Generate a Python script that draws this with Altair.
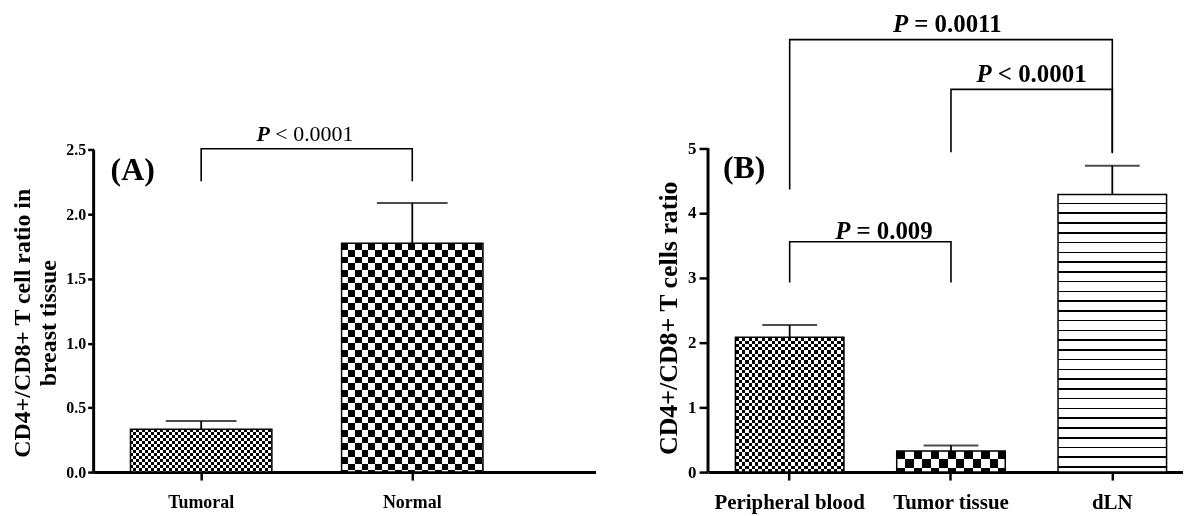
import altair as alt
import pandas as pd

# ---------------- data ----------------
a_categories = ["Tumoral", "Normal"]
a_means = [0.332, 1.774]
a_sems = [0.064, 0.313]
a_ticks = [0.0, 0.5, 1.0, 1.5, 2.0, 2.5]

b_categories = ["Peripheral blood", "Tumor tissue", "dLN"]
b_means = [2.080, 0.327, 4.284]
b_sems = [0.190, 0.083, 0.446]
b_ticks = [0, 1, 2, 3, 4, 5]

# significance brackets
a_br_from = ["Tumoral"]
a_br_to = ["Normal"]
a_br_top = [2.507]
a_br_from_bottom = [2.255]
a_br_to_bottom = [2.255]
a_br_text = ["< 0.0001"]
a_br_text_y = [2.571]

b_br_from = ["Peripheral blood", "Tumor tissue", "Peripheral blood"]
b_br_to = ["Tumor tissue", "dLN", "dLN"]
b_br_top = [3.555, 5.907, 6.675]
b_br_from_bottom = [2.925, 4.938, 4.361]
b_br_to_bottom = [2.925, 4.938, 4.923]
b_br_text = ["= 0.009", "< 0.0001", "= 0.0011"]
b_br_text_y = [3.597, 6.025, 6.794]

# ---------------- style ----------------
FONT = "Liberation Serif"
H = 464
A_W, A_PPU = 504, 129.5
B_W, B_PPU = 477, 65.06
A_BW, B_BW = 142, 109

# pattern per bar: (kind, cell size px)
a_patterns = [("checker", 3.0), ("checker", 6.7)]
b_patterns = [("checker", 3.3), ("checker", 8.5), ("lines", 9.8)]

a_text_dx = [(69, 74.5)]
b_text_dx = [(61, 67), (41, 47), (119, 125)]


def stripe_stops(length, cell):
    stops, pos, n = [], 0.0, 0
    while pos < length - 1e-6:
        end = min(pos + cell, length)
        col = "white" if n % 2 == 0 else "black"
        stops.append({"offset": round(pos / length, 5), "color": col})
        stops.append({"offset": round(end / length, 5), "color": col})
        pos, n = end, n + 1
    return stops


def line_stops(length, period, thick=1.6):
    stops, pos = [], 0.0
    while pos < length - 1e-6:
        w_end = min(pos + period - thick, length)
        b_end = min(pos + period, length)
        stops.append({"offset": round(pos / length, 5), "color": "white"})
        stops.append({"offset": round(w_end / length, 5), "color": "white"})
        if b_end > w_end:
            stops.append({"offset": round(w_end / length, 5), "color": "black"})
            stops.append({"offset": round(b_end / length, 5), "color": "black"})
        pos = b_end
    return stops


def grad(stops, vertical=True):
    if vertical:
        return {"gradient": "linear", "x1": 0, "y1": 0, "x2": 0, "y2": 1, "stops": stops}
    return {"gradient": "linear", "x1": 0, "y1": 0, "x2": 1, "y2": 0, "stops": stops}


def panel(cats, means, sems, ticks, ppu, width, bw, patterns, xscale, xaxis, yaxis,
          cap_size, br, text_dx, rest_weight, p_size, tag, tag_pos, axis_top):
    ymax = H / ppu
    ysc = alt.Scale(domain=[0, ymax], nice=False, zero=True)

    def X():
        return alt.X("cat:N", scale=xscale, axis=xaxis, sort=cats)

    def Y(f):
        return alt.Y(f, scale=ysc, axis=yaxis)

    layers = []
    df = pd.DataFrame({"cat": cats, "mean": means, "sem": sems})
    for c, m, (kind, cell) in zip(cats, means, patterns):
        d = pd.DataFrame({"cat": [c], "mean": [m]})
        hpx = m * ppu
        if kind == "checker":
            layers.append(alt.Chart(d).mark_bar(fill=grad(stripe_stops(hpx, cell), True))
                          .encode(x=X(), y=Y("mean:Q")))
            layers.append(alt.Chart(d).mark_bar(fill=grad(stripe_stops(bw, cell), False),
                                                blend="difference")
                          .encode(x=X(), y=Y("mean:Q")))
        else:
            layers.append(alt.Chart(d).mark_bar(fill=grad(line_stops(hpx, cell), True))
                          .encode(x=X(), y=Y("mean:Q")))
    layers.append(alt.Chart(df).mark_bar(fill="transparent", stroke="black", strokeWidth=1.5)
                  .encode(x=X(), y=Y("mean:Q")))
    err = alt.Chart(df).transform_calculate(upper="datum.mean + datum.sem")
    layers.append(err.mark_rule(color="black", strokeWidth=1.8)
                  .encode(x=X(), y=Y("mean:Q"), y2="upper:Q"))
    layers.append(err.mark_tick(color="black", thickness=2, size=cap_size)
                  .encode(x=X(), y=Y("upper:Q")))

    # brackets
    rows = []
    for i, (f, t, top, fb, tb) in enumerate(zip(br["from"], br["to"], br["top"], br["fb"], br["tb"])):
        rows += [
            {"id": i, "o": 0, "cat": f, "y": fb},
            {"id": i, "o": 1, "cat": f, "y": top},
            {"id": i, "o": 2, "cat": t, "y": top},
            {"id": i, "o": 3, "cat": t, "y": tb},
        ]
    layers.append(alt.Chart(pd.DataFrame(rows)).mark_line(color="black", strokeWidth=1.6)
                  .encode(x=X(), y=Y("y:Q"), detail="id:N", order="o:Q"))
    for f, txt, ty, (pdx, rdx) in zip(br["from"], br["text"], br["ty"], text_dx):
        d = pd.DataFrame({"cat": [f], "y": [ty], "p": ["P"], "t": [txt]})
        layers.append(alt.Chart(d).mark_text(font=FONT, fontSize=p_size, fontWeight="bold",
                                             fontStyle="italic", align="right",
                                             baseline="alphabetic", dx=pdx, color="black")
                      .encode(x=X(), y=Y("y:Q"), text="p:N"))
        layers.append(alt.Chart(d).mark_text(font=FONT, fontSize=p_size, fontWeight=rest_weight,
                                             align="left", baseline="alphabetic", dx=rdx,
                                             color="black")
                      .encode(x=X(), y=Y("y:Q"), text="t:N"))
    # panel tag
    layers.append(alt.Chart(pd.DataFrame({"t": [tag]})).mark_text(
        font=FONT, fontSize=32, fontWeight="bold", align="left", baseline="alphabetic",
        color="black").encode(text="t:N", x=alt.value(tag_pos[0]), y=alt.value(tag_pos[1])))
    # y axis line (0 .. top tick)
    layers.append(alt.Chart(pd.DataFrame({"a": [0]})).mark_rule(color="black", strokeWidth=3)
                  .encode(x=alt.value(0), y=alt.Y(datum=0, scale=ysc, axis=yaxis),
                          y2=alt.datum(axis_top)))
    return alt.layer(*layers).properties(
        width=width, height=H, view=alt.ViewBackground(stroke="transparent", strokeWidth=0))


def xaxis(size, pad):
    return alt.Axis(title=None, labelAngle=0, labelFont=FONT, labelFontSize=size,
                    labelFontWeight="bold", labelColor="black", labelPadding=pad,
                    domainColor="black", domainWidth=3, tickColor="black", tickWidth=2.5,
                    tickSize=8, grid=False)


def yaxis(title, ticks, fmt, lsize, tsize, tick_len, title_y, lpad, tpad):
    return alt.Axis(title=title, values=ticks, format=fmt, domain=False, grid=False,
                    labelFont=FONT, labelFontSize=lsize, labelFontWeight="bold",
                    labelColor="black", labelPadding=lpad, tickColor="black", tickWidth=2.5,
                    tickSize=tick_len, titleFont=FONT, titleFontSize=tsize,
                    titleFontWeight="bold", titleColor="black", titlePadding=tpad,
                    titleLineHeight=26, titleY=title_y)


panel_a = panel(
    a_categories, a_means, a_sems, a_ticks, A_PPU, A_W, A_BW, a_patterns,
    alt.Scale(domain=a_categories, paddingInner=0.3302, paddingOuter=0.3538, align=0.2467),
    xaxis(18, 14),
    yaxis(["CD4+/CD8+ T cell ratio in", "breast tissue"], a_ticks, ".1f", 16, 24, 6, 314, 2, 5),
    71,
    {"from": a_br_from, "to": a_br_to, "top": a_br_top, "fb": a_br_from_bottom,
     "tb": a_br_to_bottom, "text": a_br_text, "ty": a_br_text_y},
    a_text_dx, "normal", 22, "(A)", (17, 171), 2.5,
)

panel_b = panel(
    b_categories, b_means, b_sems, b_ticks, B_PPU, B_W, B_BW, b_patterns,
    alt.Scale(domain=b_categories, paddingInner=0.3272, paddingOuter=0.1358, align=0.625),
    xaxis(21, 12),
    yaxis("CD4+/CD8+ T cells ratio", b_ticks, "d", 17, 26, 9, 309, 3, 6),
    55,
    {"from": b_br_from, "to": b_br_to, "top": b_br_top, "fb": b_br_from_bottom,
     "tb": b_br_to_bottom, "text": b_br_text, "ty": b_br_text_y},
    b_text_dx, "bold", 25, "(B)", (15, 169), 5,
)

chart = alt.hconcat(panel_a, panel_b, spacing=60).properties(
    padding={"left": 3, "top": 1, "right": 0, "bottom": 0}, background="white"
).configure_view(stroke="transparent", strokeWidth=0)

chart.save("out.html", embed_options={"renderer": "svg", "actions": False})
